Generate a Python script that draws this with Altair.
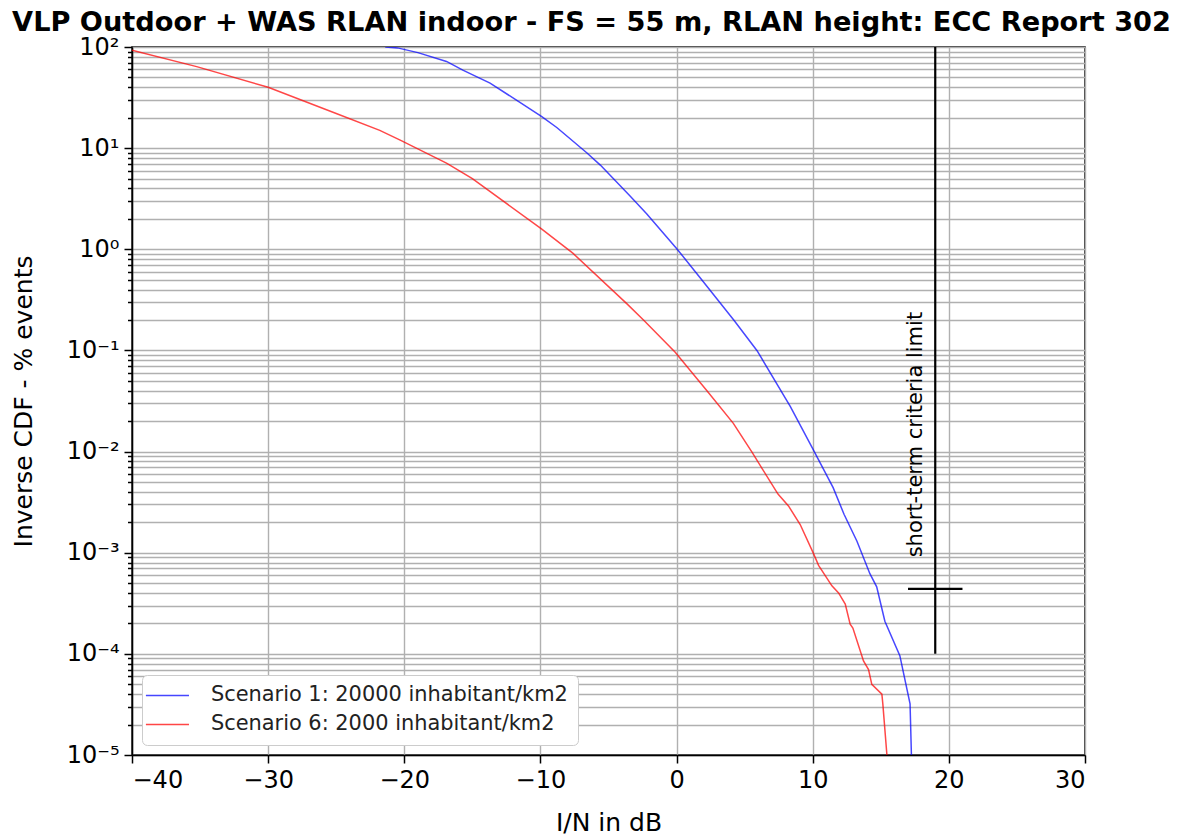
import altair as alt
import pandas as pd

# ---- data ----
s1_name = "Scenario 1: 20000 inhabitant/km2"
s6_name = "Scenario 6: 2000 inhabitant/km2"

blue_x = [-21.4, -20.5, -19.0, -16.9, -15.7, -13.7, -9.9, -8.8, -6.6, -5.6, -3.4, -2.2, 0.0, 1.7,
          4.2, 5.9, 8.35, 9.95, 11.5, 12.3, 13.25, 14.2, 14.7, 15.3, 16.4, 17.15, 17.25]
blue_y = [100, 98, 88, 72, 59, 44, 20.5, 16, 9.0, 6.8, 3.35, 2.25, 1.02, 0.53,
          0.20, 0.10, 0.028, 0.011, 4.4e-3, 2.4e-3, 1.3e-3, 6.2e-4, 4.6e-4, 2.1e-4, 9.6e-5, 3.2e-5, 1e-5]

red_x = [-40.0, -35.25, -30.0, -25.0, -21.8, -20.3, -16.9, -15.0, -9.9, -7.6, -3.66, -2.43, -0.1,
         2.23, 4.17, 5.55, 7.45, 8.22, 9.08, 10.06, 10.43, 11.41, 11.9, 12.39, 12.75, 12.95,
         13.73, 14.1, 14.34, 15.08, 15.15, 15.45]
red_y = [93, 64, 40, 22, 15, 12, 7.1, 5.0, 1.58, 0.91, 0.29, 0.20, 0.096,
         0.040, 0.019, 0.0098, 3.8e-3, 2.9e-3, 1.9e-3, 9.8e-4, 7.5e-4, 4.7e-4, 4.0e-4, 3.1e-4, 1.96e-4, 1.8e-4,
         8.5e-5, 7.0e-5, 5.0e-5, 4.0e-5, 3.2e-5, 1e-5]

crit_x = [19.0]
crit_y_low = [1e-4]
crit_y_high = [100.0]
crit_level = [4.4e-4]
crit_x_left = [17.0]
crit_x_right = [21.0]
crit_label = ["short-term criteria limit"]
crit_label_x = [18.0]
crit_label_y = [9e-4]

x_ticks = [-40, -30, -20, -10, 0, 10, 20, 30]
decades = [1e-5, 1e-4, 1e-3, 1e-2, 1e-1, 1, 10, 100]
decade_labels = ["10\u207b\u2075", "10\u207b\u2074", "10\u207b\u00b3", "10\u207b\u00b2",
                 "10\u207b\u00b9", "10\u2070", "10\u00b9", "10\u00b2"]
minors = [m * 10.0 ** k for k in range(-5, 2) for m in range(2, 10)]
y_values = sorted(decades + minors)

rows = []
for i, (x, y) in enumerate(zip(blue_x, blue_y)):
    rows.append({"x": x, "y": y, "series": s1_name, "order": i})
for i, (x, y) in enumerate(zip(red_x, red_y)):
    rows.append({"x": x, "y": y, "series": s6_name, "order": i})
df = pd.DataFrame(rows)

FONT = "DejaVu Sans"
x_scale = alt.Scale(domain=[-40, 30], nice=False, zero=False)
y_scale = alt.Scale(type="log", domain=[1e-5, 100], nice=False)

is_decade = "abs(log(datum.value)/LN10 - round(log(datum.value)/LN10)) < 0.001"
arr = "[" + ",".join("'" + s + "'" for s in decade_labels) + "]"
label_expr = f"({is_decade}) ? {arr}[round(log(datum.value)/LN10) + 5] : ''"

lines = alt.Chart(df).mark_line(strokeWidth=1.5, opacity=0.72, clip=True).encode(
    x=alt.X("x:Q", scale=x_scale,
            axis=alt.Axis(values=x_ticks, title="I/N in dB", format="d",
                          labelFontSize=24, titleFontSize=25, tickSize=8,
                          labelPadding=5, titlePadding=18)),
    y=alt.Y("y:Q", scale=y_scale,
            axis=alt.Axis(values=y_values, labelExpr=label_expr,
                          title="Inverse CDF - % events",
                          labelFontSize=24, titleFontSize=25,
                          tickSize={"condition": {"test": is_decade, "value": 8}, "value": 4.5},
                          labelPadding=5, titlePadding=30)),
    color=alt.Color("series:N",
                    scale=alt.Scale(domain=[s1_name, s6_name], range=["#0000ff", "#ff0000"]),
                    legend=alt.Legend(title=None, orient="bottom-left", offset=10,
                                      fillColor="white", strokeColor="#cccccc",
                                      cornerRadius=5, padding=10, labelLimit=1000,
                                      labelFontSize=20.9, labelColor="#222222",
                                      symbolType="M-4,0H4", symbolSize=116,
                                      symbolStrokeWidth=1.5, symbolOffset=5,
                                      labelOffset=33, rowPadding=7)),
    order="order:Q",
)

vrule = alt.Chart(pd.DataFrame({"x": crit_x, "y": crit_y_low, "y2": crit_y_high})).mark_rule(
    color="black", strokeWidth=2.2).encode(
    x=alt.X("x:Q", scale=x_scale), y=alt.Y("y:Q", scale=y_scale), y2="y2:Q")

hrule = alt.Chart(pd.DataFrame({"x": crit_x_left, "x2": crit_x_right, "y": crit_level})).mark_rule(
    color="black", strokeWidth=2.2).encode(
    x=alt.X("x:Q", scale=x_scale), x2="x2:Q", y=alt.Y("y:Q", scale=y_scale))

label = alt.Chart(pd.DataFrame({"x": crit_label_x, "y": crit_label_y, "t": crit_label})).mark_text(
    angle=270, align="left", baseline="alphabetic", fontSize=21, font=FONT, color="black").encode(
    x=alt.X("x:Q", scale=x_scale), y=alt.Y("y:Q", scale=y_scale), text="t:N")

chart = alt.layer(lines, vrule, hrule, label).properties(
    width=953, height=708,
    title=alt.TitleParams(
        text="VLP Outdoor + WAS RLAN indoor - FS = 55 m, RLAN height: ECC Report 302",
        fontSize=27.2, fontWeight="bold", font=FONT, anchor="middle", frame="group",
        dx=-17, dy=8, offset=6, color="black"),
    autosize=alt.AutoSizeParams(type="none"),
    padding={"left": 124, "top": 39, "right": 92, "bottom": 80},
).configure(font=FONT).configure_view(
    stroke="black", strokeWidth=1.5
).configure_axis(
    grid=True, gridColor="#b0b0b0", gridWidth=1.4, gridOpacity=1,
    domainColor="black", domainWidth=1.5, tickColor="black", tickWidth=1.5,
    labelColor="black", titleColor="black", titleFontWeight="normal",
    labelFont=FONT, titleFont=FONT,
)

chart.save("out.html", embed_options={"renderer": "svg", "actions": False})
